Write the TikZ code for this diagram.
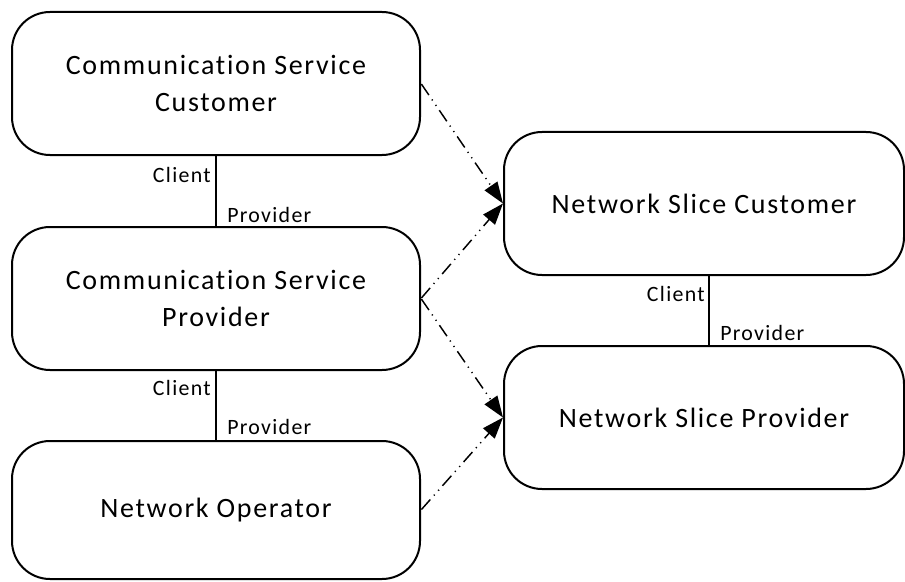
\documentclass[tikz,border=0pt]{standalone}
\usepackage{fontspec}
\setmainfont{Carlito}[LetterSpace=6,Ligatures=NoCommon]
\usetikzlibrary{arrows.meta,calc}
\tikzset{
  role/.style={draw, line width=1.5pt, rounded corners=28.5pt, align=center,
    inner sep=0pt, font=\fontsize{21}{28}\selectfont},
  lbl/.style={inner sep=0pt, font=\fontsize{16.4}{18}\selectfont},
  link/.style={line width=1.5pt},
  relation/.style={line width=1.1pt, dash pattern=on 10pt off 4pt on 0.9pt off 4pt on 0.9pt off 4pt,
    -{Triangle[length=16pt,width=11.5pt]}, shorten <=0.5pt}
}
\begin{document}
\begin{tikzpicture}[x=0.75pt,y=-0.75pt]
\useasboundingbox (0,0) rectangle (905,581);
\node[role, minimum width=306pt, minimum height=107.25pt] (csc) at (216,83.5) {Communication Service\\Customer};
\node[role, minimum width=306pt, minimum height=107.25pt] (csp) at (216,298.5) {Communication Service\\Provider};
\node[role, minimum width=306pt, minimum height=103.5pt] (no) at (216,510) {Network Operator};
\node[role, minimum width=300pt, minimum height=107.25pt] (nsc) at (704,203.5) {Network Slice Customer};
\node[role, minimum width=300pt, minimum height=107.25pt] (nsp) at (704,417.5) {Network Slice Provider};

\draw[link] (csc.south) -- (csp.north);
\node[lbl, anchor=base east] (cl1) at ($(csc.south)+(-5,26)$) {Client};
\node[lbl, anchor=base west] (pr1) at ($(csp.north)+(11,-4)$) {Provider};

\draw[link] (csp.south) -- (no.north);
\node[lbl, anchor=base east] (cl2) at ($(csp.south)+(-5,24)$) {Client};
\node[lbl, anchor=base west] (pr2) at ($(no.north)+(11,-6)$) {Provider};

\coordinate (rt) at ($(nsc.south)+(5,0)$);
\coordinate (rb) at ($(nsp.north)+(5,0)$);
\draw[link] (rt) -- (rb);
\node[lbl, anchor=base east] (cl3) at ($(rt)+(-4,25)$) {Client};
\node[lbl, anchor=base west] (pr3) at ($(rb)+(11,-4.5)$) {Provider};

\draw[relation] (csc.east) -- (nsc.west);
\draw[relation] (csp.east) -- (nsc.west);
\draw[relation] (csp.east) -- (nsp.west);
\draw[relation] (no.east) -- (nsp.west);
\end{tikzpicture}
\end{document}
